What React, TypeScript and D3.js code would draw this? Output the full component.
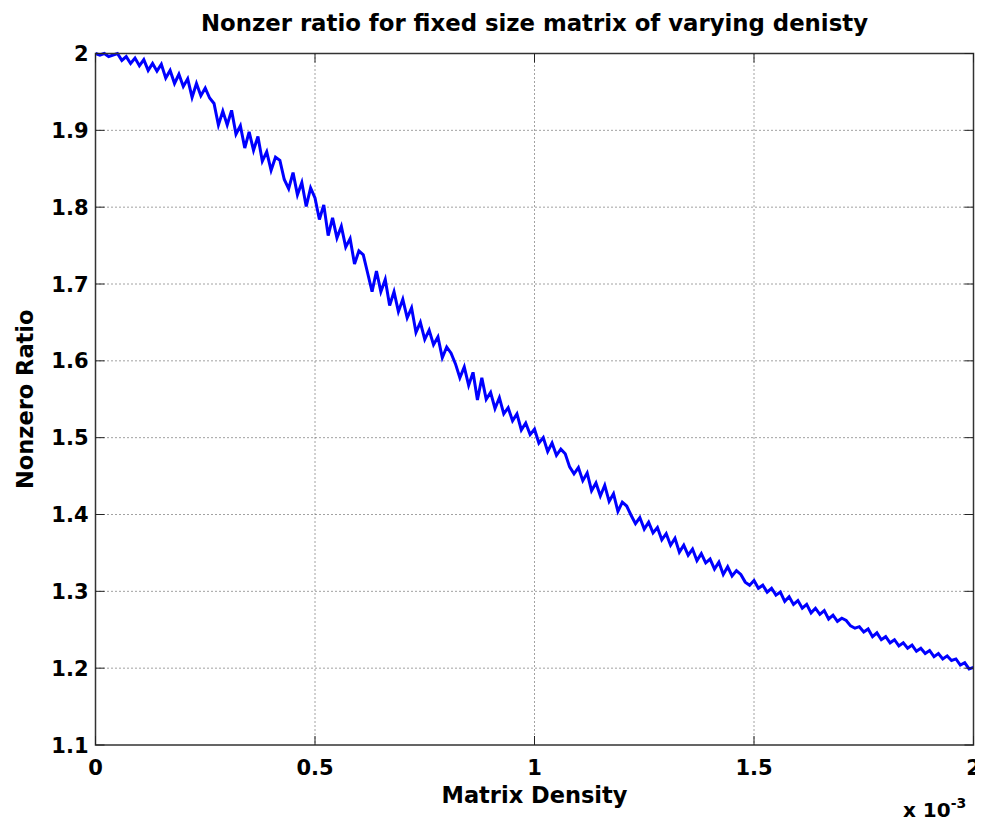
import React, { useRef, useEffect } from 'react';
import * as d3 from 'd3';

// density samples start at 0, step 0.01 (x 10^-3)
const densityStart = 0;
const densityStep = 0.01;

const nonzeroRatio = [
  2.000, 1.998, 2.000, 1.996, 1.998,
  2.000, 1.991, 1.996, 1.987, 1.994,
  1.984, 1.992, 1.978, 1.987, 1.977,
  1.986, 1.968, 1.978, 1.961, 1.973,
  1.957, 1.967, 1.943, 1.961, 1.945,
  1.955, 1.942, 1.935, 1.907, 1.925,
  1.907, 1.926, 1.895, 1.906, 1.877,
  1.898, 1.874, 1.892, 1.860, 1.872,
  1.848, 1.865, 1.861, 1.836, 1.824,
  1.845, 1.816, 1.832, 1.801, 1.825,
  1.812, 1.784, 1.803, 1.763, 1.786,
  1.760, 1.775, 1.748, 1.759, 1.726,
  1.743, 1.738, 1.714, 1.690, 1.717,
  1.690, 1.706, 1.672, 1.690, 1.664,
  1.680, 1.656, 1.669, 1.637, 1.650,
  1.628, 1.640, 1.621, 1.631, 1.604,
  1.618, 1.610, 1.596, 1.578, 1.592,
  1.568, 1.585, 1.549, 1.578, 1.550,
  1.559, 1.538, 1.552, 1.531, 1.539,
  1.522, 1.531, 1.510, 1.519, 1.504,
  1.511, 1.493, 1.500, 1.482, 1.493,
  1.477, 1.485, 1.479, 1.462, 1.453,
  1.461, 1.444, 1.454, 1.431, 1.441,
  1.424, 1.438, 1.417, 1.427, 1.404,
  1.416, 1.411, 1.399, 1.388, 1.396,
  1.381, 1.390, 1.376, 1.383, 1.367,
  1.375, 1.360, 1.369, 1.351, 1.360,
  1.347, 1.355, 1.340, 1.349, 1.337,
  1.342, 1.329, 1.338, 1.322, 1.332,
  1.320, 1.327, 1.322, 1.312, 1.308,
  1.314, 1.304, 1.308, 1.299, 1.304,
  1.295, 1.299, 1.287, 1.293, 1.283,
  1.288, 1.278, 1.283, 1.272, 1.278,
  1.270, 1.275, 1.264, 1.269, 1.261,
  1.265, 1.262, 1.255, 1.252, 1.254,
  1.247, 1.251, 1.241, 1.246, 1.237,
  1.241, 1.233, 1.237, 1.229, 1.233,
  1.226, 1.230, 1.222, 1.226, 1.219,
  1.223, 1.215, 1.219, 1.212, 1.216,
  1.210, 1.212, 1.204, 1.207, 1.199,
  1.201,
];

const xTicks = [0, 0.5, 1, 1.5, 2];
const yTicks = [1.1, 1.2, 1.3, 1.4, 1.5, 1.6, 1.7, 1.8, 1.9, 2];

const App = () => {
  const svgRef = useRef<SVGSVGElement>(null);
  const width = 983;
  const height = 825;

  useEffect(() => {
    const svg = d3.select(svgRef.current);
    svg.selectAll('*').remove();

    const margin = { top: 53.5, right: 9.5, bottom: 80, left: 95.5 };
    const innerWidth = width - margin.left - margin.right;
    const innerHeight = height - margin.top - margin.bottom;
    const font = '"DejaVu Sans", "Liberation Sans", Arial, sans-serif';

    svg.append('rect').attr('width', width).attr('height', height).attr('fill', 'white');

    const g = svg.append('g').attr('transform', `translate(${margin.left},${margin.top})`);

    const xScale = d3.scaleLinear().domain([0, 2]).range([0, innerWidth]);
    const yScale = d3.scaleLinear().domain([1.1, 2]).range([innerHeight, 0]);

    // grid
    g.selectAll('.vgrid')
      .data(xTicks.slice(1, -1))
      .enter()
      .append('line')
      .attr('x1', d => xScale(d))
      .attr('x2', d => xScale(d))
      .attr('y1', 0)
      .attr('y2', innerHeight)
      .attr('stroke', '#444')
      .attr('stroke-width', 1)
      .attr('stroke-dasharray', '1,3');

    g.selectAll('.hgrid')
      .data(yTicks.slice(1, -1))
      .enter()
      .append('line')
      .attr('x1', 0)
      .attr('x2', innerWidth)
      .attr('y1', d => yScale(d))
      .attr('y2', d => yScale(d))
      .attr('stroke', '#444')
      .attr('stroke-width', 1)
      .attr('stroke-dasharray', '1,3');

    // data line
    const line = d3.line<number>()
      .x((d, i) => xScale(densityStart + i * densityStep))
      .y(d => yScale(d));

    g.append('path')
      .datum(nonzeroRatio)
      .attr('fill', 'none')
      .attr('stroke', '#0000ff')
      .attr('stroke-width', 3)
      .attr('stroke-linejoin', 'miter')
      .attr('d', line);

    // box
    g.append('rect')
      .attr('width', innerWidth)
      .attr('height', innerHeight)
      .attr('fill', 'none')
      .attr('stroke', '#333')
      .attr('stroke-width', 1.5);

    // inward ticks
    const tickLen = 9;
    xTicks.forEach(t => {
      g.append('line').attr('x1', xScale(t)).attr('x2', xScale(t))
        .attr('y1', innerHeight).attr('y2', innerHeight - tickLen).attr('stroke', '#222');
      g.append('line').attr('x1', xScale(t)).attr('x2', xScale(t))
        .attr('y1', 0).attr('y2', tickLen).attr('stroke', '#222');
    });
    yTicks.forEach(t => {
      g.append('line').attr('x1', 0).attr('x2', tickLen)
        .attr('y1', yScale(t)).attr('y2', yScale(t)).attr('stroke', '#222');
      g.append('line').attr('x1', innerWidth).attr('x2', innerWidth - tickLen)
        .attr('y1', yScale(t)).attr('y2', yScale(t)).attr('stroke', '#222');
    });

    // tick labels
    g.selectAll('.xlab')
      .data(xTicks)
      .enter()
      .append('text')
      .attr('x', d => xScale(d))
      .attr('y', innerHeight + 30)
      .attr('text-anchor', 'middle')
      .attr('font-family', font)
      .attr('font-weight', 'bold')
      .attr('font-size', '21px')
      .text(d => String(d));

    g.selectAll('.ylab')
      .data(yTicks)
      .enter()
      .append('text')
      .attr('x', -7)
      .attr('y', d => yScale(d) + 7.5)
      .attr('text-anchor', 'end')
      .attr('font-family', font)
      .attr('font-weight', 'bold')
      .attr('font-size', '21px')
      .text(d => d3.format('.1f')(d).replace(/\.0$/, ''));

    // exponent
    const exp = svg.append('text')
      .attr('x', 903)
      .attr('y', 817)
      .attr('font-family', font)
      .attr('font-weight', 'bold')
      .attr('font-size', '20px');
    exp.append('tspan').text('x 10');
    exp.append('tspan').attr('dy', -9).attr('font-size', '14px').text('-3');

    // titles
    svg.append('text')
      .attr('x', margin.left + innerWidth / 2)
      .attr('y', 31)
      .attr('text-anchor', 'middle')
      .attr('font-family', font)
      .attr('font-weight', 'bold')
      .attr('font-size', '22.8px')
      .text('Nonzer ratio for fixed size matrix of varying denisty');

    svg.append('text')
      .attr('x', margin.left + innerWidth / 2)
      .attr('y', 803)
      .attr('text-anchor', 'middle')
      .attr('font-family', font)
      .attr('font-weight', 'bold')
      .attr('font-size', '22.5px')
      .text('Matrix Density');

    svg.append('text')
      .attr('transform', `translate(33,${margin.top + innerHeight / 2}) rotate(-90)`)
      .attr('text-anchor', 'middle')
      .attr('font-family', font)
      .attr('font-weight', 'bold')
      .attr('font-size', '22.5px')
      .text('Nonzero Ratio');
  }, []);

  return (
    <svg ref={svgRef} width={width} height={height} style={{ display: 'block', margin: '-8px' }}></svg>
  );
};

export default App;
